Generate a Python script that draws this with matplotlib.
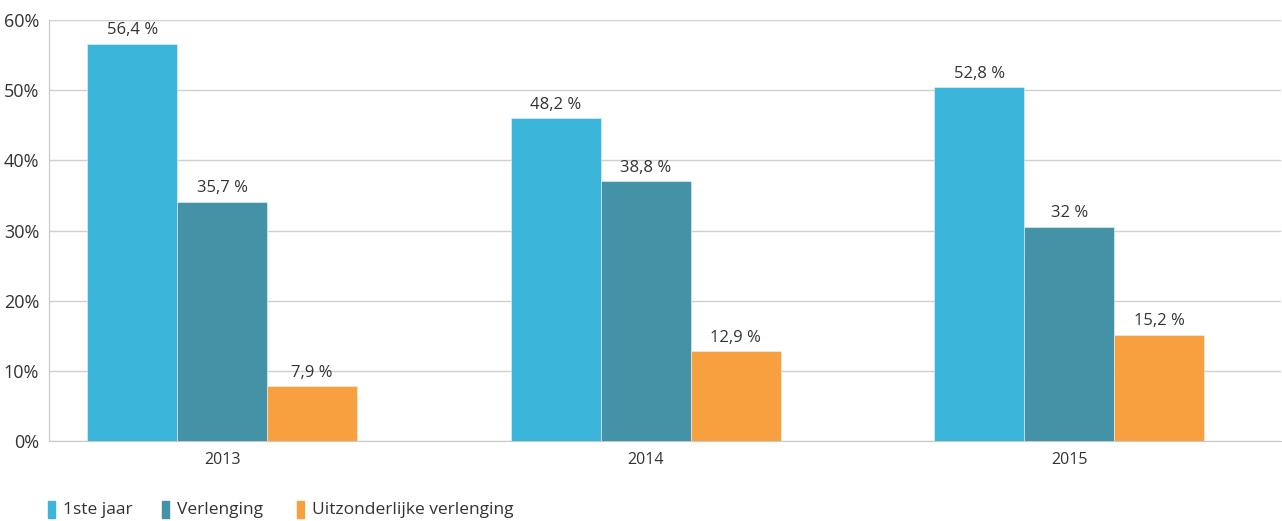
import matplotlib.pyplot as plt
import numpy as np
from matplotlib.patches import Rectangle

plt.rcParams["font.family"] = ["Open Sans", "DejaVu Sans"]

years = ["2013", "2014", "2015"]
series = ["1ste jaar", "Verlenging", "Uitzonderlijke verlenging"]
# bar heights as drawn in the reference (the printed labels differ slightly)
eerste_jaar = [56.6, 46.0, 50.4]
verlenging = [34.1, 37.0, 30.5]
uitzonderlijk = [7.8, 12.8, 15.1]
labels_eerste = ["56,4 %", "48,2 %", "52,8 %"]
labels_verl = ["35,7 %", "38,8 %", "32 %"]
labels_uitz = ["7,9 %", "12,9 %", "15,2 %"]
colors = ["#3cb5da", "#4492a6", "#f89f3f"]
yticks = [0, 10, 20, 30, 40, 50, 60]

W, H = 1282, 521
fig = plt.figure(figsize=(W / 100, H / 100), dpi=100)
ax = fig.add_axes([49 / W, (H - 441) / H, (1281 - 49) / W, 421 / H])

x = np.arange(len(years))
width = 0.2125
text_color = "#333333"
all_vals = [eerste_jaar, verlenging, uitzonderlijk]
all_labels = [labels_eerste, labels_verl, labels_uitz]
for i, (vals, labs, color) in enumerate(zip(all_vals, all_labels, colors)):
    offset = (i - 1) * width
    bars = ax.bar(x + offset, vals, width, color=color, edgecolor="#e8f4f8",
                  linewidth=0.4, zorder=3)
    for bar, lab in zip(bars, labs):
        ax.text(bar.get_x() + bar.get_width() / 2, bar.get_height() + 0.8, lab,
                ha="center", va="bottom", fontsize=12, color=text_color)

ax.set_xlim(-0.409, 2.500)
ax.set_ylim(0, 60)
ax.set_yticks(yticks)
ax.set_yticklabels([f"{t}%" for t in yticks], fontsize=13, color=text_color)
ax.set_xticks(x)
ax.set_xticklabels(years, fontsize=11.5, color=text_color)
ax.tick_params(axis="x", length=0, pad=8)
ax.tick_params(axis="y", length=0, pad=7)
ax.grid(axis="y", color="#d0d0d0", linewidth=1, zorder=0)
for side in ["top", "right"]:
    ax.spines[side].set_visible(False)
ax.spines["left"].set_color("#c8c8c8")
ax.spines["bottom"].set_color("#c8c8c8")

# legend at bottom
leg_x = [48, 162, 297]
for lx, name, color in zip(leg_x, series, colors):
    fig.patches.append(Rectangle((lx / W, (H - 518) / H), 7 / W, 17 / H,
                                 transform=fig.transFigure, color=color))
    fig.text((lx + 15) / W, (H - 510) / H, name, fontsize=12.5, color=text_color,
             va="center", ha="left")

fig.savefig("out.png", dpi=100)
